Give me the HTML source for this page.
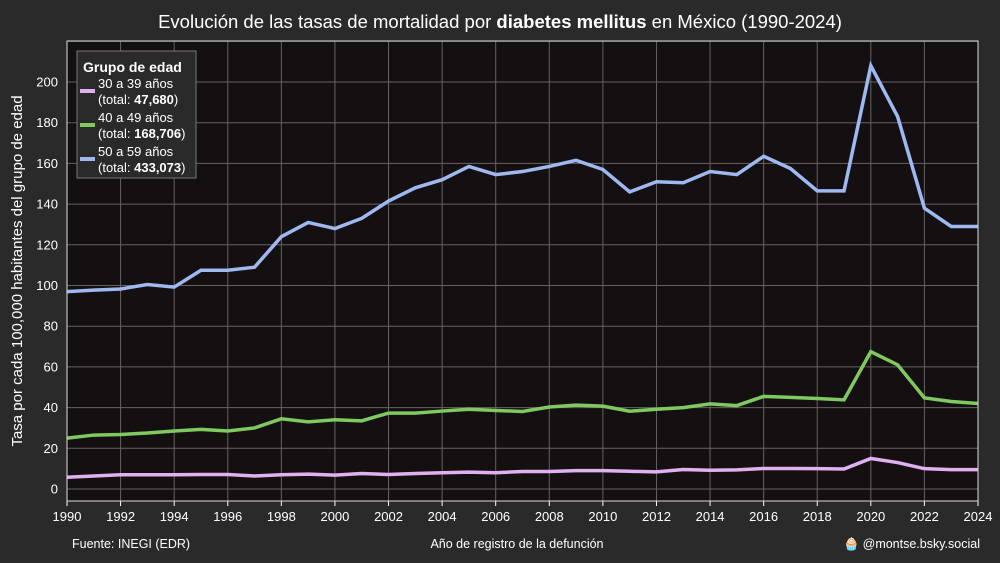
<!DOCTYPE html>
<html><head><meta charset="utf-8"><style>
body{margin:0;background:#2a2a2a;}
svg{display:block;font-family:"Liberation Sans",sans-serif;}
</style></head><body>
<svg id="c" width="1000" height="563">
<rect width="1000" height="563" fill="#2a2a2a"/>
<text x="500" y="28" fill="#fff" font-size="18.5" text-anchor="middle">Evolución de las tasas de mortalidad por <tspan font-weight="bold">diabetes mellitus</tspan> en México (1990-2024)</text>
<rect x="67" y="41" width="911" height="460" fill="#141011"/>
<g id="grid"></g><g id="lines"></g><g id="axes"></g>
<text transform="translate(22,271) rotate(-90)" fill="#fff" font-size="15" text-anchor="middle">Tasa por cada 100,000 habitantes del grupo de edad</text>
<text x="517" y="548" fill="#fff" font-size="12.5" text-anchor="middle">Año de registro de la defunción</text>
<text x="72" y="548" fill="#fff" font-size="12.5">Fuente: INEGI (EDR)</text>
<text x="980" y="548" fill="#fff" font-size="12.5" text-anchor="end">🧁 @montse.bsky.social</text>
<g>
<rect x="77" y="51" width="119" height="127" fill="#2a2a2a" stroke="#777"/>
<text x="83" y="72" fill="#fff" font-size="14" font-weight="bold">Grupo de edad</text>
<g><line x1="80" y1="91" x2="95" y2="91" stroke="#e0b0f0" stroke-width="4"/><text x="98" y="88" fill="#fff" font-size="13">30 a 39 años</text><text x="98" y="104" fill="#fff" font-size="13">(total: <tspan font-weight="bold">47,680</tspan>)</text></g>
<g><line x1="80" y1="125" x2="95" y2="125" stroke="#80c860" stroke-width="4"/><text x="98" y="122" fill="#fff" font-size="13">40 a 49 años</text><text x="98" y="138" fill="#fff" font-size="13">(total: <tspan font-weight="bold">168,706</tspan>)</text></g>
<g><line x1="80" y1="159" x2="95" y2="159" stroke="#a0b8f0" stroke-width="4"/><text x="98" y="156" fill="#fff" font-size="13">50 a 59 años</text><text x="98" y="172" fill="#fff" font-size="13">(total: <tspan font-weight="bold">433,073</tspan>)</text></g>
</g>
</svg>
<script>
const years=[1990,1991,1992,1993,1994,1995,1996,1997,1998,1999,2000,2001,2002,2003,2004,2005,2006,2007,2008,2009,2010,2011,2012,2013,2014,2015,2016,2017,2018,2019,2020,2021,2022,2023,2024];
const s50=[97,97.7,98.3,100.5,99.2,107.5,107.5,109,124,131,128,133,141.5,148,152,158.5,154.5,156,158.5,161.5,157,146,151,150.5,156,154.5,163.5,157.5,146.5,146.5,208,183,138,129,129];
const s40=[25,26.5,26.8,27.5,28.5,29.3,28.5,30,34.5,33,34,33.5,37.3,37.3,38.3,39.2,38.6,38.1,40.3,41.2,40.7,38.2,39.2,40,41.8,41,45.5,45,44.5,43.8,67.5,61,44.8,43,42];
const s30=[5.8,6.4,7,7,7,7.1,7.1,6.4,7,7.3,6.8,7.6,7.1,7.6,8,8.3,8,8.6,8.6,9,9,8.7,8.4,9.6,9.2,9.4,10.1,10.1,10,9.8,15,13,10,9.5,9.5];
const yTicks=[0,20,40,60,80,100,120,140,160,180,200];
const xTicks=[1990,1992,1994,1996,1998,2000,2002,2004,2006,2008,2010,2012,2014,2016,2018,2020,2022,2024];
const NS='http://www.w3.org/2000/svg';
const X=v=>67+(v-1990)*(911/34);
const Y=v=>489-v*(407/200);
function mk(t,a,p){const e=document.createElementNS(NS,t);for(const k in a)e.setAttribute(k,a[k]);p.appendChild(e);return e;}
const g=document.getElementById('grid'),ax=document.getElementById('axes'),L=document.getElementById('lines');
yTicks.concat([220]).forEach(v=>{const l=mk('line',{x1:67,x2:978,y1:Y(v),y2:Y(v),stroke:'#666262','stroke-width':1},g);

});
yTicks.forEach(v=>{const t=mk('text',{x:58,y:Y(v)+4.5,fill:'#fff','font-size':13,'text-anchor':'end'},ax);t.textContent=v;

});
xTicks.forEach(yr=>{const l=mk('line',{x1:X(yr),x2:X(yr),y1:41,y2:501,stroke:'#666262','stroke-width':1},g);

});
xTicks.forEach(v=>{const t=mk('text',{x:X(v),y:521,fill:'#fff','font-size':13,'text-anchor':'middle'},ax);t.textContent=v;


mk('line',{x1:X(v),x2:X(v),y1:501,y2:506,stroke:'#fff'},ax);});
const fr=mk('rect',{x:67,y:41,width:911,height:460,fill:'none',stroke:'#ddd','stroke-width':1},ax);


[[s30,'#e0b0f0','line-30-39'],[s40,'#80c860','line-40-49'],[s50,'#a0b8f0','line-50-59']].forEach(([s,c,n])=>{
const p=mk('polyline',{points:s.map((v,i)=>X(years[i])+','+Y(v)).join(' '),fill:'none',stroke:c,'stroke-width':3.5,'stroke-linejoin':'miter'},L);

});
</script>
</body></html>
